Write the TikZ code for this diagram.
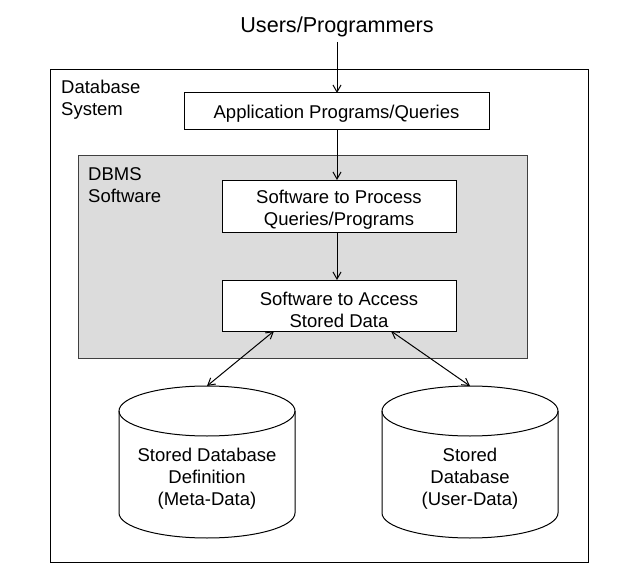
\documentclass[tikz,border=0pt]{standalone}
\usepackage{fontspec}
\setmainfont{Liberation Sans}
\usetikzlibrary{arrows.meta}
\definecolor{dbmsgray}{HTML}{DCDCDC}
\begin{document}
\begin{tikzpicture}[x=1pt,y=-1pt,
  every node/.style={font=\fontsize{18.5}{22}\selectfont, inner sep=0pt},
  box/.style={draw, line width=1pt, fill=white},
  lbl/.style={align=left, anchor=north west},
  conn/.style={line width=1pt, -{Straight Barb[length=7pt,width=8pt]}},
  bconn/.style={line width=1pt, {Straight Barb[length=7pt,width=8pt]}-{Straight Barb[length=7pt,width=8pt]}},
  cyl/.style={draw, line width=1pt, fill=white}]
\useasboundingbox (0,0) rectangle (630,586);
% outer box
\draw[line width=1pt] (50,70) rectangle (588,562);
\node[lbl] (dbsys) at (61,79.5) {Database\\System};
% gray box
\draw[line width=1pt, draw=black!75, fill=dbmsgray] (78,155) rectangle (527,358);
\node[lbl] (dbms) at (88,167) {DBMS\\Software};
% title
\node[font=\fontsize{21.6}{26}\selectfont] (users) at (337,26.5) {Users/Programmers};
% boxes
\draw[box] (184,93) rectangle (489,130);
\node (app) at (336.5,114) {Application Programs/Queries};
\coordinate (appT) at (337,93);
\coordinate (appB) at (337,130);
\draw[box] (222,180) rectangle (456,232);
\node[align=center] (proc) at (339,209.5) {Software to Process\\Queries/Programs};
\coordinate (procT) at (337,180);
\coordinate (procB) at (337,232);
\draw[box] (222,280) rectangle (456,331);
\node[align=center] (acc) at (339,309.5) {Software to Access\\Stored Data};
\coordinate (accT) at (337,280);
\coordinate (accBL) at (274,331);
\coordinate (accBR) at (391,331);
% cylinders
\draw[cyl] (119,411) -- (119,513) arc[start angle=180, end angle=360, x radius=88pt, y radius=25pt] -- (295,411);
\draw[line width=1pt] (207,411) ellipse [x radius=88pt, y radius=25pt];
\coordinate (cylLT) at (207,386);
\node[align=center] (meta) at (207,478.5) {Stored Database\\Definition\\(Meta-Data)};
\draw[cyl] (382,411) -- (382,513) arc[start angle=180, end angle=360, x radius=88pt, y radius=25pt] -- (558,411);
\draw[line width=1pt] (470,411) ellipse [x radius=88pt, y radius=25pt];
\coordinate (cylRT) at (470,386);
\node[align=center] (user) at (470,478.5) {Stored\\Database\\(User-Data)};
% connectors
\coordinate (uS) at (337,42);
\draw[conn] (uS) -- (appT);
\draw[conn] (appB) -- (procT);
\draw[conn] (procB) -- (accT);
\draw[bconn] (accBL) -- (cylLT);
\draw[bconn] (accBR) -- (cylRT);
\end{tikzpicture}
\end{document}
